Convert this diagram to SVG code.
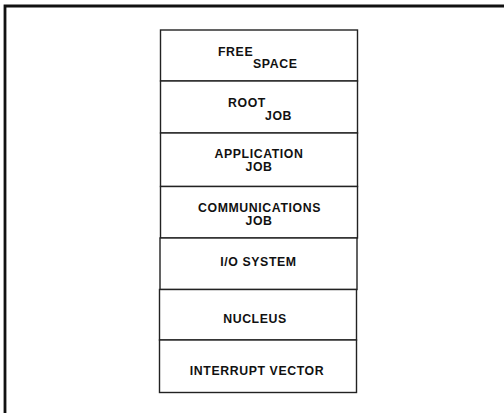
<svg xmlns="http://www.w3.org/2000/svg" width="504" height="413" viewBox="0 0 504 413">
<style>
.frame{fill:none;stroke:#111;stroke-width:2.8}
.cell{fill:#fff;stroke:#222;stroke-width:1.4}
.t{font-family:"Liberation Sans",Arial,sans-serif;font-weight:bold;font-size:12.3px;letter-spacing:0.6px;fill:#111}
.m{text-anchor:middle}
</style>
<rect width="504" height="413" fill="#fff"/>
<path class="frame" d="M5 413 V6 H504"/>
<g id="free-space">
<rect class="cell" x="160.5" y="30" width="197" height="51"/>
<text class="t" x="218" y="56">FREE</text>
<text class="t" x="253" y="68">SPACE</text>
</g>
<g id="root-job">
<rect class="cell" x="160.5" y="81" width="197" height="52"/>
<text class="t" x="228" y="107">ROOT</text>
<text class="t" x="265" y="120">JOB</text>
</g>
<g id="application-job">
<rect class="cell" x="160.5" y="133" width="197" height="53.5"/>
<text class="t m" x="259" y="158">APPLICATION</text>
<text class="t m" x="259" y="170.5">JOB</text>
</g>
<g id="communications-job">
<rect class="cell" x="160.5" y="186.5" width="197" height="51.5"/>
<text class="t m" x="259.5" y="212">COMMUNICATIONS</text>
<text class="t m" x="259" y="225">JOB</text>
</g>
<g id="io-system">
<rect class="cell" x="160" y="238" width="197" height="51.5"/>
<text class="t m" x="258.5" y="266">I/O SYSTEM</text>
</g>
<g id="nucleus">
<rect class="cell" x="159.5" y="289.5" width="197" height="50.5"/>
<text class="t m" x="255" y="323">NUCLEUS</text>
</g>
<g id="interrupt-vector">
<rect class="cell" x="159.5" y="340" width="197" height="52.5"/>
<text class="t m" x="257" y="375">INTERRUPT VECTOR</text>
</g>
<g id="connectors"></g>
</svg>
